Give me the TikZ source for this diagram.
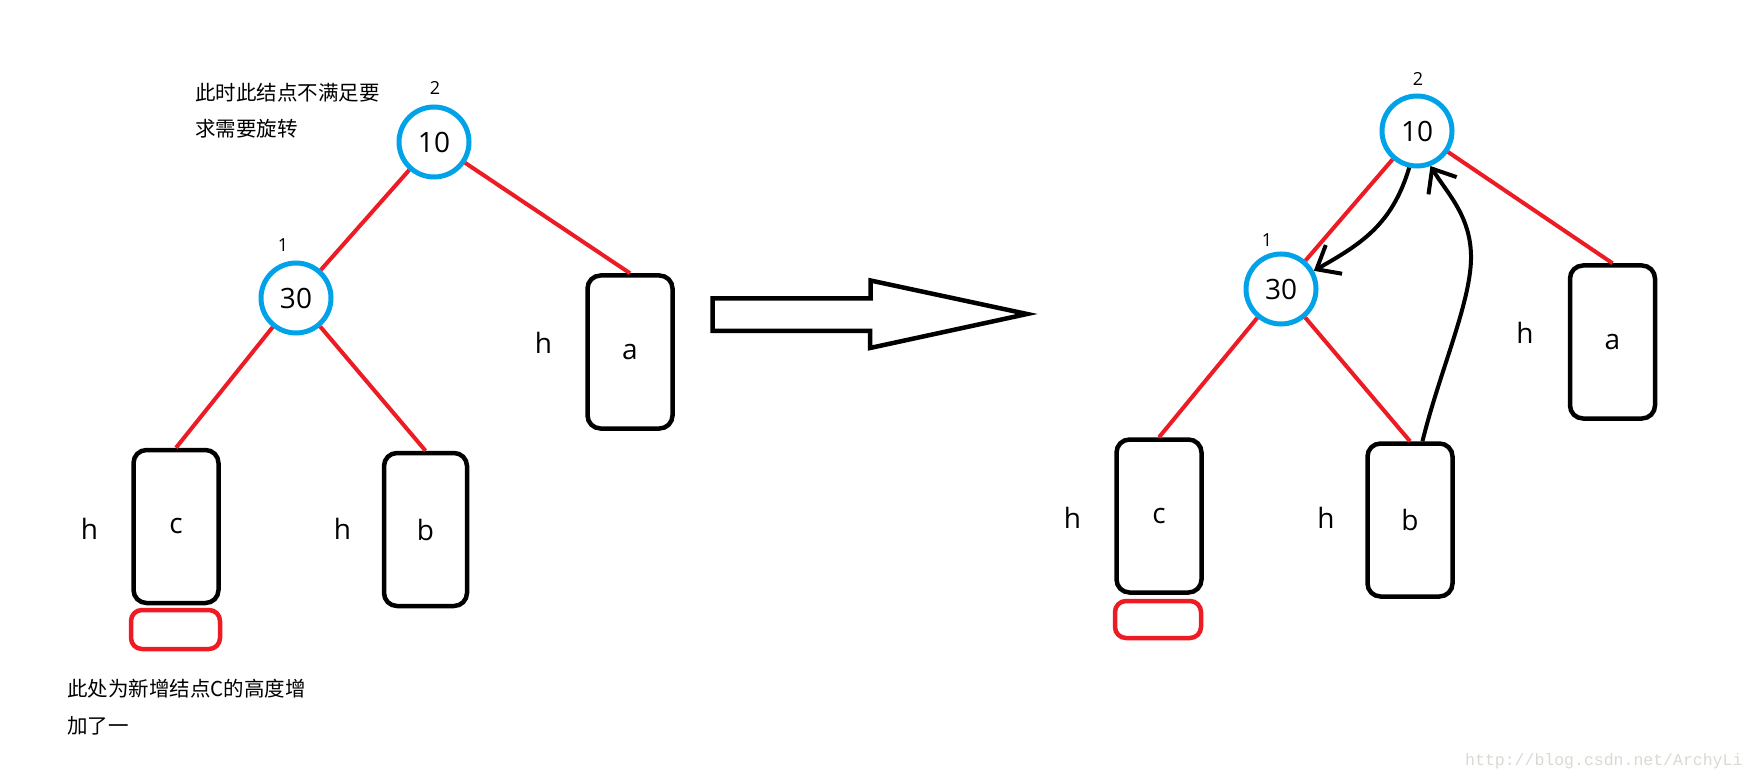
\documentclass[tikz,border=0pt]{standalone}
\usepackage{fontspec}
\setmainfont{Open Sans}
\newfontfamily\cjk{Noto Sans CJK SC}
\newfontfamily\wmfont{Liberation Mono}
\usetikzlibrary{arrows.meta}
\definecolor{pblue}{RGB}{0,162,232}
\definecolor{pred}{RGB}{237,28,36}
\definecolor{wmgray}{RGB}{218,218,210}
\begin{document}
\begin{tikzpicture}[x=1pt,y=-1pt,
 circ/.style={circle,draw=pblue,line width=5pt,minimum size=70pt,inner sep=0pt,font=\fontsize{28}{30}\selectfont},
 boxnode/.style={draw=black,line width=4.5pt,rounded corners=13pt,minimum width=85pt,minimum height=153pt,inner sep=0pt,font=\fontsize{28}{30}\selectfont},
 newbox/.style={draw=pred,line width=4.5pt,rounded corners=11pt,inner sep=0pt},
 treeedge/.style={draw=pred,line width=4pt},
 rotarrow/.style={draw=black,line width=4pt,-{Straight Barb[length=20pt,width=33pt]}},
 hlbl/.style={font=\fontsize{28}{30}\selectfont,inner sep=0pt},
 num/.style={font=\fontsize{18}{20}\selectfont,inner sep=0pt},
 note/.style={font=\cjk\fontsize{20.5}{22}\selectfont,inner sep=0pt,anchor=west},
 bigarrow/.style={draw=black,line width=4.5pt,line join=miter,fill=white}
]
\fill[white] (0,0) rectangle (1756,783);
\useasboundingbox (0,0) rectangle (1756,783);

% ---------- left tree ----------
\node[circ] (L10) at (434,142) {10};
\node[circ] (L30) at (296,298) {30};
\node[num] (L2) at (435,88) {2};
\node[num] (L1) at (283,245) {1};
\node[boxnode] (La) at (630,352) {a};
\node[boxnode] (Lc) at (176,526.5) {c};
\node[boxnode,minimum width=83pt] (Lb) at (425.5,529.5) {b};
\node[newbox,minimum width=89pt,minimum height=39pt] (Lnew) at (175.5,629.5) {};
\node[hlbl] (Lha) at (543.5,343) {h};
\node[hlbl] (Lhc) at (89.5,528.5) {h};
\node[hlbl] (Lhb) at (342.5,529) {h};

\draw[treeedge] (L10) -- (L30);
\draw[treeedge] (L10) -- (La.north);
\draw[treeedge] (L30) -- (Lc.north);
\draw[treeedge] (L30) -- (Lb.north);

\node[note] (t1) at (195,93) {此时此结点不满足要};
\node[note] (t2) at (195,129) {求需要旋转};
\node[note] (t3) at (67,689) {此处为新增结点C的高度增};
\node[note] (t4) at (67,726) {加了一};

% ---------- big arrow ----------
\draw[bigarrow] (712.5,298.5) -- (870.5,298.5) -- (870.5,280.5) -- (1027,314) -- (870,348) -- (870,331) -- (712.5,331) -- cycle;

% ---------- right tree ----------
\node[circ] (R10) at (1417,131) {10};
\node[circ] (R30) at (1281,289) {30};
\node[num] (R2) at (1418,78.5) {2};
\node[num] (R1) at (1267,240.5) {1};
\node[boxnode] (Ra) at (1612.5,342) {a};
\node[boxnode] (Rc) at (1159,516) {c};
\node[boxnode] (Rb) at (1410,520) {b};
\node[newbox,minimum width=86pt,minimum height=37pt] (Rnew) at (1158,619.5) {};
\node[hlbl] (Rha) at (1525,333) {h};
\node[hlbl] (Rhc) at (1072.5,518) {h};
\node[hlbl] (Rhb) at (1326,518) {h};

\draw[treeedge] (R10) -- (R30);
\draw[treeedge] (R10) -- (Ra.north);
\draw[treeedge] (R30) -- (Rc.north);
\draw[treeedge] (R30) -- (Rb.north);

\draw[rotarrow] (R10.-102) .. controls (1392,225) and (1361,244) .. (R30.29);
\draw[rotarrow] (Rb.81) .. controls (1440,370) and (1472,300) .. (1471,255)
                .. controls (1470,215) and (1447,193) .. (R10.-69);

% ---------- watermark ----------
\node[font=\wmfont\fontsize{16.5}{18}\selectfont,text=wmgray,inner sep=0pt,anchor=west] (wm) at (1465,761) {http://blog.csdn.net/ArchyLi};
\end{tikzpicture}
\end{document}
